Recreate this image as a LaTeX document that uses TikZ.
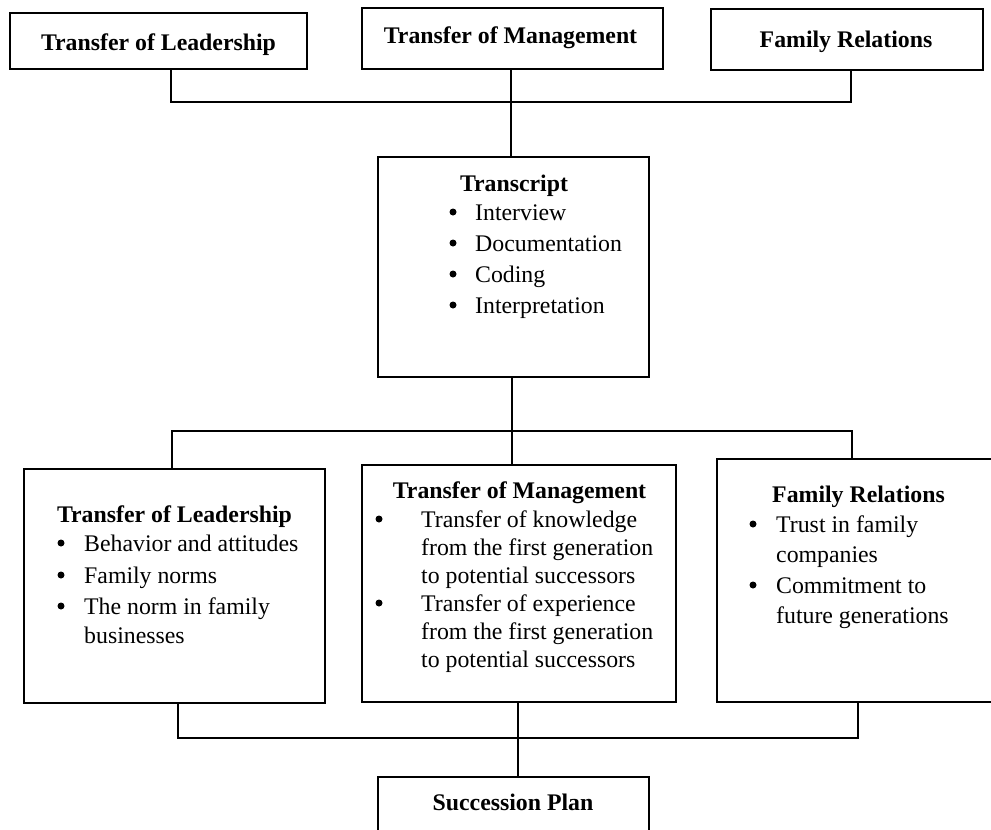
\documentclass[tikz,border=0pt]{standalone}
\usepackage{fontspec}
\setmainfont{Liberation Serif}
\begin{document}
\begin{tikzpicture}[x=1pt,y=-1pt,
  box/.style={draw=black,line width=2.6pt,rectangle,inner sep=0pt,outer sep=0pt},
  conn/.style={draw=black,line width=1.6pt},
  ttl/.style={inner sep=0pt,anchor=base,font=\fontsize{23.8}{28}\selectfont\bfseries},
  txt/.style={inner sep=0pt,anchor=base west,font=\fontsize{23.8}{28}\selectfont},
  bul/.style={circle,fill=black,inner sep=0pt,minimum size=7pt,yshift=8pt}]
\useasboundingbox (0,0) rectangle (991,830);
\fill[white] (0,0) rectangle (991,830);
\begin{scope}
\clip (0,0) rectangle (991,830);
% boxes
\node[box,minimum width=297pt,minimum height=56pt] (tl) at (158.5,41) {};
\node[box,minimum width=301pt,minimum height=61pt] (tm) at (512.5,38.5) {};
\node[box,minimum width=272pt,minimum height=61pt] (tr) at (847,39.5) {};
\node[box,minimum width=271pt,minimum height=220pt] (tc) at (513.5,267) {};
\node[box,minimum width=301pt,minimum height=234pt] (ll) at (174.5,586) {};
\node[box,minimum width=314pt,minimum height=237pt] (lm) at (519,583.5) {};
\node[box,minimum width=293pt,minimum height=243pt] (lr) at (863.5,580.5) {};
\node[box,minimum width=271pt,minimum height=83pt] (sp) at (513.5,818.5) {};
% junctions
\coordinate (j1) at (511,102);
\coordinate (j2) at (512,431);
\coordinate (j3) at (518,738);
% top connectors
\draw[conn] ([xshift=12.5pt]tl.south) |- (j1);
\draw[conn] ([xshift=4pt]tr.south) |- (j1);
\draw[conn] ([xshift=-1.5pt]tm.south) -- ([xshift=-2.5pt]tc.north);
% middle connectors
\draw[conn] ([xshift=-1.5pt]tc.south) -- (j2);
\draw[conn] ([xshift=-2.5pt]ll.north) |- ([xshift=-11.5pt]lr.north |- j2) -- ([xshift=-11.5pt]lr.north);
\draw[conn] (j2) -- ([xshift=-7pt]lm.north);
% bottom connectors
\draw[conn] ([xshift=3.5pt]ll.south) |- (j3);
\draw[conn] ([xshift=-5.5pt]lr.south) |- (j3);
\draw[conn] ([xshift=-1pt]lm.south) -- ([xshift=4.5pt]sp.north);
\end{scope}
% top texts
\node[ttl] (tlt) at (158.5,50) {Transfer of Leadership};
\node[ttl] (tmt) at (510.5,43) {Transfer of Management};
\node[ttl] (trt) at (846,47) {Family Relations};
% transcript
\node[ttl] (tct) at (514,191) {Transcript};
\node[bul] (tcb1) at (453,220) {};
\node[txt] (tc1) at (475,220) {Interview};
\node[bul] (tcb2) at (453,251) {};
\node[txt] (tc2) at (475,251) {Documentation};
\node[bul] (tcb3) at (453,282) {};
\node[txt] (tc3) at (475,282) {Coding};
\node[bul] (tcb4) at (453,313) {};
\node[txt] (tc4) at (475,313) {Interpretation};
% lower left
\node[ttl] (llt) at (174.5,522) {Transfer of Leadership};
\node[bul] (llb1) at (61,551) {};
\node[txt] (ll1) at (84,551) {Behavior and attitudes};
\node[bul] (llb2) at (61,583) {};
\node[txt] (ll2) at (84,583) {Family norms};
\node[bul] (llb3) at (61,614) {};
\node[txt] (ll3) at (84,614) {The norm in family};
\node[txt] (ll4) at (84,643) {businesses};
% lower middle
\node[ttl] (lmt) at (519.5,498) {Transfer of Management};
\node[bul] (lmb1) at (379,527) {};
\node[txt] (lm1) at (421,527) {Transfer of knowledge};
\node[txt] (lm2) at (421,555) {from the first generation};
\node[txt] (lm3) at (421,583) {to potential successors};
\node[bul] (lmb2) at (379,611) {};
\node[txt] (lm4) at (421,611) {Transfer of experience};
\node[txt] (lm5) at (421,639) {from the first generation};
\node[txt] (lm6) at (421,667) {to potential successors};
% lower right
\node[ttl] (lrt) at (858.5,502) {Family Relations};
\node[bul] (lrb1) at (753,532) {};
\node[txt] (lr1) at (776,532) {Trust in family};
\node[txt] (lr2) at (776,562) {companies};
\node[bul] (lrb2) at (753,593) {};
\node[txt] (lr3) at (776,593) {Commitment to};
\node[txt] (lr4) at (776,623) {future generations};
% succession
\node[ttl] (spt) at (513,810) {Succession Plan};
\end{tikzpicture}
\end{document}
